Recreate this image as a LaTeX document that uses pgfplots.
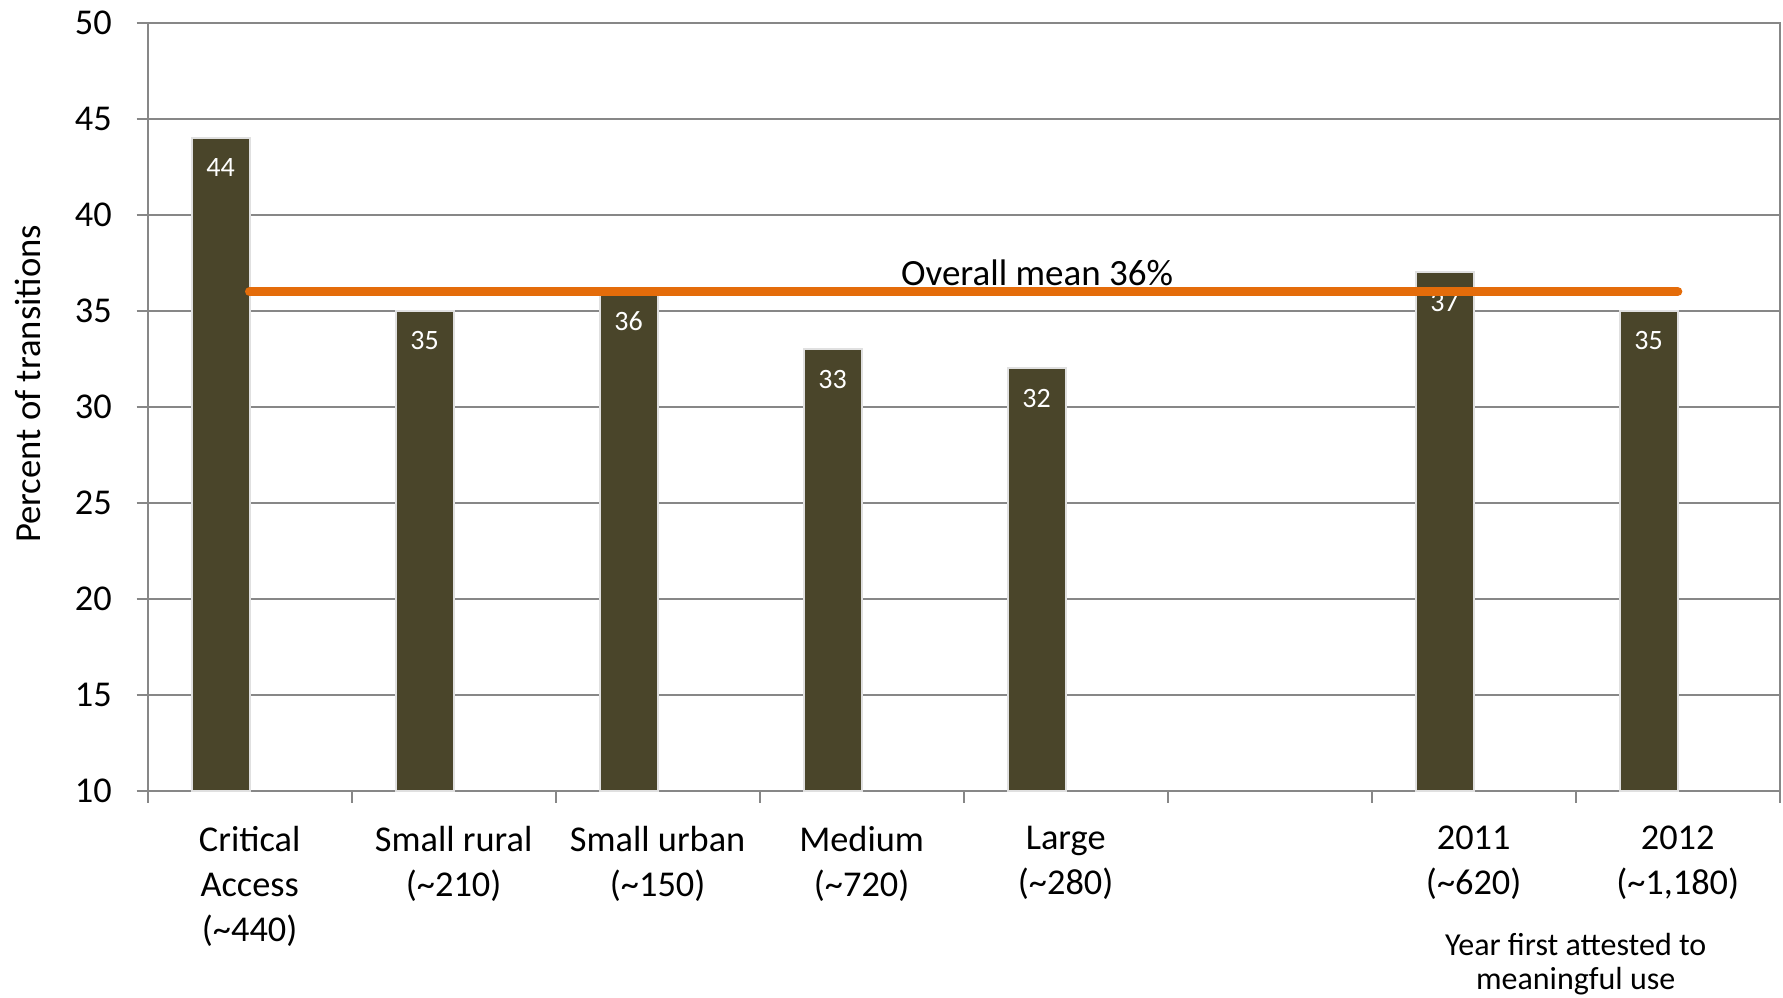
\documentclass[border=0pt]{standalone}
\usepackage{fontspec}
\setmainfont{Carlito}
\usepackage{pgfplots}
\pgfplotsset{compat=1.18}
\definecolor{barcol}{HTML}{4A452A}
\definecolor{meanline}{HTML}{E46C0A}
\definecolor{gridgray}{HTML}{878787}
\begin{document}
\begin{tikzpicture}
\begin{axis}[
  scale only axis, width=489.6pt, height=230.5pt,
  xmin=-0.5, xmax=7.5, ymin=10, ymax=50,
  /pgf/number format/assume math mode=true,
  axis line style={gridgray, line width=0.6pt},
  xtick={0,...,7}, xtick pos=bottom, ytick pos=left,
  xticklabels={{Critical\\Access\\(\textasciitilde440)},
               {Small rural\\(\textasciitilde210)},
               {Small urban\\(\textasciitilde150)},
               {Medium\\(\textasciitilde720)},
               {Large\\(\textasciitilde280)},
               {},
               {2011\\(\textasciitilde620)},
               {2012\\(\textasciitilde1,180)}},
  major x tick style={draw=none},
  minor xtick={-0.5,0.5,...,7.5},
  ytick={10,15,...,50},
  tick align=outside,
  major tick length=3.3pt, minor tick length=3.5pt,
  tick style={gridgray, line width=0.6pt},
  ymajorgrids, grid style={gridgray, line width=0.6pt},
  xticklabel style={font=\fontsize{10.9}{13.5}\selectfont, align=center,
                    anchor=north, inner sep=0pt, yshift=-7.1pt,
                    execute at begin node=\strut},
  yticklabel style={font=\fontsize{10.9}{13}\selectfont, anchor=east,
                    inner sep=0pt, xshift=-7.3pt},
  clip mode=individual,
]
% bars with their values
\addplot[ybar, bar width=17.4pt, bar shift=-8.7pt, fill=barcol,
         draw=black!12, line width=0.6pt,
         nodes near coords,
         nodes near coords style={white, font=\fontsize{8.4}{10}\selectfont,
                                  anchor=center, xshift=-8.7pt, yshift=-9pt}]
  coordinates {
  (0,44) (1,35) (2,36) (3,33) (4,32) (6,37) (7,35)
};
\node[anchor=base, inner sep=0pt, font=\fontsize{11.1}{13}\selectfont]
  at (axis cs:3.86,36) [yshift=1.74pt] {Overall mean 36\%};
% overall mean
\addplot[meanline, line width=2.8pt, line cap=round, mark=none] coordinates {
  (0,36) (7,36)
};
\node[rotate=90, anchor=base, inner sep=0pt, font=\fontsize{11}{13}\selectfont]
  at ([xshift=-32pt]axis cs:-0.5,31.2) {Percent of transitions};
\node[anchor=base, inner sep=0pt, font=\fontsize{9.6}{9}\selectfont]
  at ([yshift=-49.2pt]axis cs:6.5,10) {Year first attested to};
\node[anchor=base, inner sep=0pt, font=\fontsize{9.6}{9}\selectfont]
  at ([yshift=-59.4pt]axis cs:6.5,10) {meaningful use};
\end{axis}
\pgfresetboundingbox
\path[use as bounding box] ([shift={(-44.3pt,-62.1pt)}]current axis.south west)
  rectangle ([shift={(1pt,6.8pt)}]current axis.north east);
\end{tikzpicture}
\end{document}
